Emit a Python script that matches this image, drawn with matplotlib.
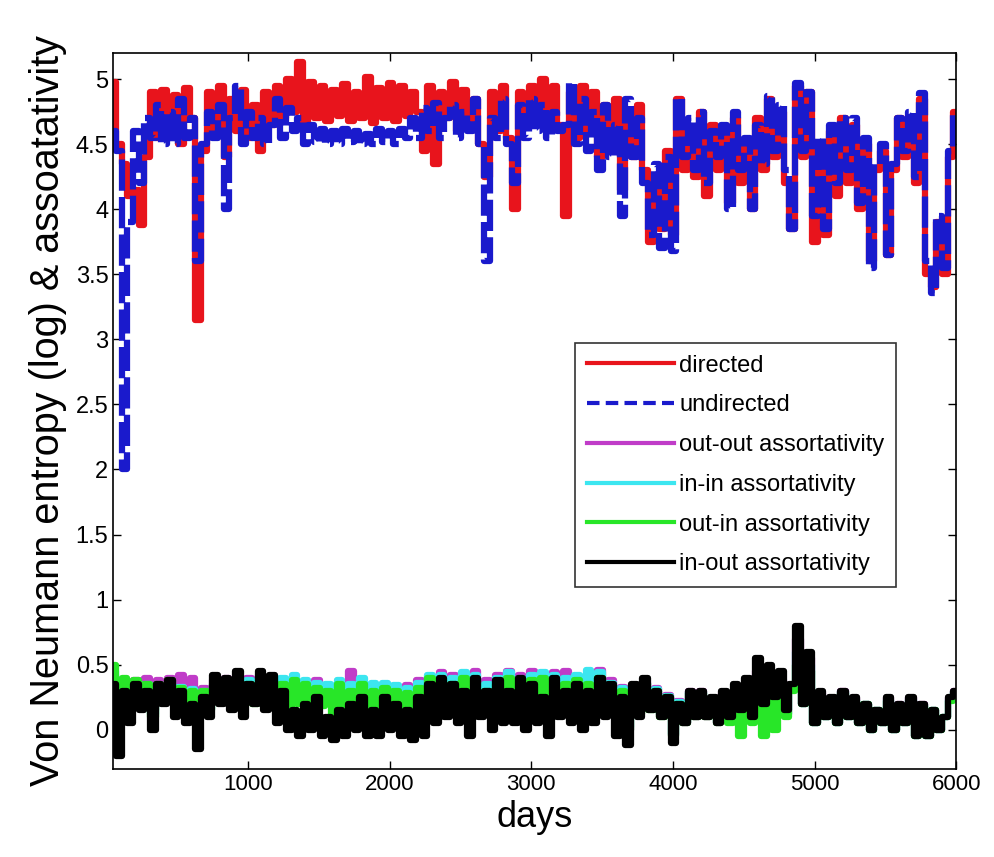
import numpy as np
import matplotlib
matplotlib.use('Agg')
import matplotlib.pyplot as plt
from matplotlib.ticker import FormatStrFormatter

plt.rcParams['font.family'] = ['Liberation Sans', 'DejaVu Sans']

# von Neumann entropy (log), sampled roughly every 40 days from day 50 to 6000
directed = [4.98, 4.5, 4.35, 4.1, 4.15, 3.88, 4.4, 4.9, 4.55, 4.92,
            4.6, 4.88, 4.5, 4.93, 4.7, 3.15, 4.45, 4.9, 4.6, 4.95,
            4.4, 4.85, 4.6, 4.92, 4.55, 4.8, 4.45, 4.9, 4.65, 4.95,
            4.7, 5.0, 4.75, 5.13, 4.65, 4.98, 4.7, 4.95, 4.68, 4.92,
            4.72, 4.96, 4.68, 4.9, 4.7, 5.02, 4.66, 4.93, 4.7, 4.97,
            4.68, 4.95, 4.72, 4.9, 4.75, 4.45, 4.95, 4.35, 4.9, 4.7,
            4.98, 4.6, 4.92, 4.65, 4.85, 4.5, 4.25, 4.9, 4.6, 4.95,
            4.55, 4.0, 4.9, 4.65, 4.95, 4.7, 5.0, 4.72, 4.95, 4.65,
            3.95, 4.9, 4.55, 4.95, 4.6, 4.9, 4.4, 4.8, 4.5, 4.85,
            4.15, 4.7, 4.4, 4.8, 4.3, 3.75, 4.2, 3.85, 4.45, 3.8,
            4.85, 4.3, 4.6, 4.25, 4.75, 4.1, 4.65, 4.3, 4.6, 4.05,
            4.7, 4.2, 4.5, 4.0, 4.7, 4.3, 4.85, 4.4, 4.75, 4.2,
            3.85, 4.95, 4.4, 4.9, 3.75, 4.5, 3.8, 4.6, 4.1, 4.7,
            4.2, 4.65, 4.0, 4.5, 3.6, 4.3, 4.45, 3.65, 4.3, 4.7,
            4.4, 4.7, 4.2, 4.85, 3.5, 3.4, 3.9, 3.5, 4.4, 4.75]

undirected = [4.6, 4.45, 2.0, 3.9, 4.6, 4.2, 4.7, 4.55, 4.8, 4.5,
              4.75, 4.5, 4.85, 4.55, 4.7, 3.6, 4.5, 4.75, 4.55, 4.8,
              4.0, 4.7, 4.95, 4.5, 4.75, 4.55, 4.7, 4.5, 4.65, 4.85,
              4.55, 4.78, 4.6, 4.7, 4.5, 4.65, 4.52, 4.62, 4.5, 4.6,
              4.5, 4.62, 4.52, 4.6, 4.5, 4.58, 4.5, 4.62, 4.52, 4.6,
              4.5, 4.62, 4.55, 4.7, 4.55, 4.78, 4.6, 4.82, 4.55, 4.7,
              4.8, 4.55, 4.75, 4.6, 4.85, 4.5, 3.6, 4.7, 4.55, 4.85,
              4.5, 4.2, 4.8, 4.55, 4.85, 4.6, 4.8, 4.55, 4.75, 4.6,
              4.65, 4.97, 4.5, 4.85, 4.45, 4.75, 4.3, 4.8, 4.4, 4.65,
              3.95, 4.85, 4.4, 4.7, 4.2, 3.8, 4.35, 3.7, 4.4, 3.68,
              4.85, 4.4, 4.7, 4.3, 4.75, 4.2, 4.6, 4.4, 4.65, 4.0,
              4.75, 4.3, 4.55, 4.0, 4.65, 4.35, 4.87, 4.45, 4.8, 4.3,
              3.85, 4.97, 4.45, 4.9, 3.95, 4.55, 3.85, 4.65, 4.2, 4.7,
              4.3, 4.7, 4.05, 4.55, 3.55, 4.35, 4.5, 3.65, 4.35, 4.7,
              4.45, 4.75, 4.25, 4.89, 3.6, 3.36, 3.95, 3.55, 4.45, 4.75]

# assortativity series
out_out = [0.42, 0.1, 0.37, 0.18, 0.38, 0.25, 0.4, 0.15, 0.38, 0.3,
           0.4, 0.25, 0.42, 0.2, 0.4, 0.1, 0.32, 0.2, 0.38, 0.3,
           0.4, 0.25, 0.38, 0.3, 0.4, 0.25, 0.42, 0.28, 0.38, 0.3,
           0.38, 0.2, 0.4, 0.22, 0.36, 0.22, 0.38, 0.2, 0.34, 0.18,
           0.36, 0.2, 0.45, 0.22, 0.36, 0.2, 0.34, 0.22, 0.35, 0.2,
           0.32, 0.15, 0.34, 0.2, 0.38, 0.2, 0.4, 0.25, 0.44, 0.25,
           0.42, 0.22, 0.4, 0.2, 0.45, 0.22, 0.38, 0.2, 0.42, 0.22,
           0.45, 0.2, 0.42, 0.22, 0.45, 0.2, 0.42, 0.2, 0.44, 0.22,
           0.45, 0.2, 0.4, 0.22, 0.42, 0.2, 0.46, 0.25, 0.38, 0.15,
           0.33, 0.0, 0.34, 0.13, 0.36, 0.16, 0.32, 0.11, 0.27, -0.04,
           0.22, 0.05, 0.3, 0.1, 0.3, 0.1, 0.24, 0.05, 0.28, 0.08,
           0.3, 0.1, 0.35, 0.1, 0.45, 0.15, 0.42, 0.2, 0.38, 0.12,
           0.33, 0.7, 0.2, 0.55, 0.05, 0.28, 0.1, 0.24, 0.05, 0.3,
           0.1, 0.24, 0.05, 0.2, 0.0, 0.15, 0.05, 0.24, 0.0, 0.2,
           0.05, 0.24, -0.05, 0.2, -0.05, 0.15, 0.0, 0.1, 0.24, 0.3]

in_in = [0.45, 0.12, 0.38, 0.18, 0.36, 0.22, 0.35, 0.12, 0.34, 0.26,
         0.37, 0.22, 0.33, 0.18, 0.31, 0.12, 0.3, 0.16, 0.34, 0.26,
         0.38, 0.24, 0.36, 0.28, 0.38, 0.24, 0.42, 0.25, 0.4, 0.32,
         0.4, 0.2, 0.42, 0.25, 0.38, 0.2, 0.36, 0.24, 0.35, 0.2,
         0.38, 0.2, 0.35, 0.28, 0.4, 0.2, 0.36, 0.25, 0.36, 0.2,
         0.34, 0.16, 0.32, 0.18, 0.36, 0.2, 0.42, 0.26, 0.42, 0.25,
         0.4, 0.25, 0.44, 0.2, 0.42, 0.25, 0.35, 0.2, 0.4, 0.25,
         0.44, 0.2, 0.4, 0.25, 0.42, 0.2, 0.44, 0.22, 0.42, 0.25,
         0.4, 0.2, 0.42, 0.28, 0.46, 0.2, 0.44, 0.25, 0.36, 0.14,
         0.32, 0.02, 0.34, 0.14, 0.36, 0.17, 0.31, 0.12, 0.26, -0.03,
         0.21, 0.06, 0.29, 0.11, 0.29, 0.11, 0.23, 0.06, 0.27, 0.07,
         0.26, 0.05, 0.3, 0.08, 0.35, 0.1, 0.35, 0.1, 0.3, 0.12,
         0.32, 0.6, 0.2, 0.5, 0.05, 0.27, 0.1, 0.23, 0.05, 0.29,
         0.1, 0.23, 0.05, 0.2, 0.0, 0.15, 0.05, 0.23, 0.0, 0.19,
         0.05, 0.23, -0.05, 0.19, -0.05, 0.15, 0.0, 0.1, 0.23, 0.29]

out_in = [0.5, 0.1, 0.4, 0.15, 0.38, 0.2, 0.35, 0.1, 0.35, 0.25,
          0.38, 0.2, 0.32, 0.15, 0.3, 0.1, 0.3, 0.15, 0.35, 0.25,
          0.38, 0.2, 0.35, 0.25, 0.35, 0.2, 0.4, 0.2, 0.38, 0.3,
          0.35, 0.15, 0.38, 0.2, 0.35, 0.15, 0.32, 0.18, 0.3, 0.12,
          0.35, 0.15, 0.3, 0.2, 0.35, 0.12, 0.3, 0.18, 0.32, 0.15,
          0.3, 0.1, 0.28, 0.12, 0.32, 0.15, 0.4, 0.2, 0.38, 0.2,
          0.35, 0.2, 0.4, 0.15, 0.38, 0.2, 0.3, 0.15, 0.35, 0.2,
          0.4, 0.15, 0.35, 0.2, 0.38, 0.15, 0.4, 0.15, 0.38, 0.2,
          0.35, 0.15, 0.38, 0.2, 0.35, 0.15, 0.4, 0.2, 0.32, 0.1,
          0.3, 0.0, 0.32, 0.12, 0.35, 0.15, 0.3, 0.1, 0.25, -0.05,
          0.2, 0.05, 0.28, 0.1, 0.28, 0.1, 0.22, 0.05, 0.25, 0.05,
          0.2, -0.05, 0.25, 0.05, 0.2, -0.05, 0.3, 0.0, 0.25, 0.1,
          0.3, 0.5, 0.2, 0.45, 0.05, 0.25, 0.1, 0.22, 0.05, 0.28,
          0.1, 0.22, 0.05, 0.2, 0.0, 0.15, 0.05, 0.22, 0.0, 0.18,
          0.05, 0.22, -0.05, 0.18, -0.05, 0.15, 0.0, 0.1, 0.22, 0.28]

in_out = [0.35, -0.2, 0.3, 0.05, 0.35, 0.15, 0.3, 0.0, 0.35, 0.2,
          0.38, 0.1, 0.3, 0.05, 0.2, -0.15, 0.25, 0.1, 0.42, 0.2,
          0.4, 0.15, 0.45, 0.1, 0.35, 0.2, 0.45, 0.15, 0.42, 0.05,
          0.3, 0.0, 0.15, -0.05, 0.2, 0.0, 0.25, -0.05, 0.1, -0.08,
          0.15, -0.05, 0.2, 0.0, 0.25, -0.05, 0.15, -0.05, 0.25, 0.0,
          0.2, -0.05, 0.15, -0.08, 0.25, -0.05, 0.35, 0.05, 0.4, 0.1,
          0.35, 0.05, 0.3, -0.05, 0.4, 0.1, 0.3, 0.0, 0.38, 0.05,
          0.3, 0.05, 0.4, 0.0, 0.35, 0.05, 0.25, -0.05, 0.4, 0.1,
          0.3, 0.05, 0.35, 0.0, 0.3, 0.05, 0.4, 0.1, 0.35, -0.05,
          0.25, -0.12, 0.35, 0.1, 0.4, 0.15, 0.3, 0.1, 0.25, -0.1,
          0.2, 0.05, 0.3, 0.1, 0.3, 0.1, 0.25, 0.05, 0.3, 0.1,
          0.35, 0.15, 0.4, 0.1, 0.55, 0.2, 0.5, 0.25, 0.45, 0.15,
          0.35, 0.8, 0.2, 0.6, 0.05, 0.3, 0.1, 0.25, 0.05, 0.3,
          0.1, 0.25, 0.05, 0.2, 0.0, 0.15, 0.05, 0.25, 0.0, 0.2,
          0.05, 0.25, -0.05, 0.2, -0.05, 0.15, 0.0, 0.1, 0.25, 0.3]

first_day = 50
last_day = 6000
days = np.linspace(first_day, last_day, len(directed))

fig = plt.figure(figsize=(9.94, 8.57), dpi=100)
ax = fig.add_axes([0.114, 0.103, 0.848, 0.835])

lw = 4.5
ax.plot(days, directed, color='#e8141c', lw=lw, drawstyle='steps-mid', label='directed')
ax.plot(days, undirected, color='#1a1acc', lw=lw, ls=(0, (5, 1)), drawstyle='steps-mid', label='undirected')
ax.plot(days, out_out, color='#c03cc8', lw=lw, drawstyle='steps-mid', label='out-out assortativity')
ax.plot(days, in_in, color='#3ce6f0', lw=lw, drawstyle='steps-mid', label='in-in assortativity')
ax.plot(days, out_in, color='#28e628', lw=lw, drawstyle='steps-mid', label='out-in assortativity')
ax.plot(days, in_out, color='black', lw=lw, drawstyle='steps-mid', label='in-out assortativity')

ax.set_xlim(first_day, last_day)
ax.set_ylim(-0.3, 5.2)
ax.set_xticks([1000, 2000, 3000, 4000, 5000, 6000])
ax.set_yticks(np.arange(0, 5.01, 0.5))
ax.yaxis.set_major_formatter(FormatStrFormatter('%g'))
ax.tick_params(direction='in', top=True, right=True, length=6, width=1, labelsize=17)
ax.tick_params(axis='x', labelsize=16)
for s in ax.spines.values():
    s.set_linewidth(1.2)

ax.set_xlabel('days', fontsize=26, labelpad=4)
ax.set_ylabel('Von Neumann entropy (log) & assoatativity', fontsize=28.5, labelpad=6)

leg = ax.legend(loc='upper left', bbox_to_anchor=(0.548, 0.595), borderaxespad=0,
                fontsize=17, frameon=True, fancybox=False, edgecolor='black',
                handlelength=3.7, handletextpad=0.2, labelspacing=0.75, borderpad=0.5)
leg.get_frame().set_linewidth(1.2)
for line in leg.get_lines():
    line.set_linewidth(3)
leg.get_lines()[1].set_linestyle((0, (3, 1.5)))

fig.savefig('out.png', dpi=100)
